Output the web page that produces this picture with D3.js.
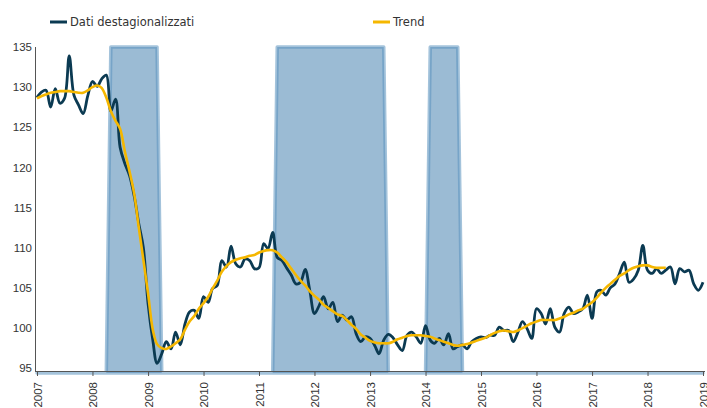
<!DOCTYPE html>
<html>
<head>
<meta charset="utf-8">
<script src="https://cdn.jsdelivr.net/npm/d3@7"></script>
<style>
  body { margin: 0; background: #fff; }
  svg { display: block; font-family: "DejaVu Sans", Verdana, sans-serif; }
</style>
</head>
<body>
<div id="chart"></div>
<script>
// monthly series from Jan 2007
var datiDest = [
  128.7, 129.4, 129.6, 127.5, 129.8, 128.0, 128.6, 133.9, 129.0, 127.8, 126.7, 128.9,
  130.7, 130.1, 131.0, 131.5, 127.0, 128.5, 122.5, 120.5, 119.0, 116.5, 113.0, 110.0,
  103.0, 98.5, 95.6, 96.8, 98.3, 97.4, 99.5, 97.9, 100.5, 102.0, 102.2, 101.2,
  103.9, 103.2, 104.9, 105.3, 108.4, 107.6, 110.2, 108.0, 107.6, 108.6, 108.4, 107.4,
  107.5, 110.5, 109.9, 111.9, 108.8, 108.4, 107.5, 106.6, 105.5, 105.7, 107.3, 104.7,
  101.8, 102.8, 103.9, 102.4, 103.2, 100.8, 101.6, 101.0, 101.4, 99.3, 98.3, 98.9,
  98.7, 97.8, 96.8, 98.5, 99.2, 98.8, 97.9, 97.2, 99.1, 99.5, 98.9, 98.1,
  100.3, 98.5, 98.1, 98.7, 97.9, 99.3, 97.4, 97.7, 97.9, 97.4, 98.3, 98.7,
  98.9, 98.8, 99.1, 99.1, 100.1, 99.7, 99.7, 98.3, 99.5, 100.8, 99.9, 98.7,
  102.4, 101.8, 100.5, 102.4, 100.1, 99.5, 101.8, 102.6, 101.8, 102.0, 102.4, 104.1,
  101.2, 104.5, 104.7, 104.1, 105.0, 105.5, 106.8, 108.2, 105.7, 106.1, 107.2, 110.3,
  107.2, 106.8, 107.4, 106.8, 107.2, 107.6, 105.5, 107.4, 107.0, 107.2, 105.5, 104.7,
  105.7
];

var trend = [
  128.6, 128.9, 129.1, 129.3, 129.4, 129.5, 129.5, 129.5, 129.4, 129.3, 129.3, 129.6,
  130.0, 130.2, 129.9, 128.7, 127.0, 125.8, 124.8, 122.0, 119.5, 116.8, 112.5, 108.5,
  104.3, 99.8, 98.0, 97.5, 97.4, 97.7, 98.1, 98.6, 99.8, 100.8, 101.5, 102.4,
  103.1, 103.9, 104.9, 105.9, 107.0, 107.7, 108.2, 108.5, 108.7, 108.8, 109.0, 109.1,
  109.4, 109.6, 109.7, 109.7, 109.4, 108.8, 108.2, 107.4, 106.6, 105.9, 105.3, 104.6,
  104.0, 103.5, 102.9, 102.5, 102.1, 101.7, 101.5, 101.0, 100.4, 99.9, 99.2, 98.8,
  98.4, 98.2, 98.1, 98.1, 98.1, 98.3, 98.6, 98.8, 99.0, 99.1, 99.1, 99.1,
  99.0, 98.9, 98.7, 98.5, 98.3, 98.1, 97.9, 97.8, 97.9, 98.0, 98.2, 98.4,
  98.6, 98.8, 99.1, 99.4, 99.6, 99.7, 99.6, 99.5, 99.7, 100.0, 100.3, 100.6,
  100.8, 101.0, 101.0, 101.0, 101.0, 101.2, 101.4, 101.7, 101.9, 102.2, 102.4, 102.8,
  103.2, 103.8, 104.4, 105.0, 105.5, 106.0, 106.5, 106.8, 107.2, 107.5, 107.7, 107.8,
  107.8, 107.6, 107.5, 107.5, 107.5
];

// recession periods (first and last month)
var recessioni = [
  ["2008-05", "2009-03"],
  ["2011-05", "2013-04"],
  ["2014-02", "2014-08"]
];

var anniTick = [2007, 2008, 2009, 2010, 2011, 2012, 2013, 2014, 2015, 2016, 2017, 2018, 2019];
var yTick = [95, 100, 105, 110, 115, 120, 125, 130, 135];
var legenda = ["Dati destagionalizzati", "Trend"];

var width = 707, height = 408;
var colDati = "#0b3a52", colTrend = "#f5b700";

var svg = d3.select("#chart").append("svg")
    .attr("width", width)
    .attr("height", height);

var start = new Date(2007, 0, 1);
var parseM = d3.timeParse("%Y-%m");

var x = d3.scaleTime()
    .domain([start, new Date(2019, 0, 1)])
    .range([37, 703]);

var y = d3.scaleLinear()
    .domain([94.4, 135])
    .range([373, 47]);

function mese(i) { return d3.timeMonth.offset(start, i); }

// recession area (full height inside the periods, baseline elsewhere)
var recData = d3.range(datiDest.length).map(function (i) {
    var d = mese(i);
    var dentro = recessioni.some(function (r) {
        return d >= parseM(r[0]) && d <= parseM(r[1]);
    });
    return { date: d, value: dentro ? 135 : 94.4 };
});

var area = d3.area()
    .x(function (d) { return x(d.date); })
    .y0(y(94.4))
    .y1(function (d) { return y(d.value); });

svg.append("path")
    .datum(recData)
    .attr("d", area)
    .attr("fill", "rgba(80,135,180,0.57)")
    .attr("stroke", "rgba(90,145,190,0.55)")
    .attr("stroke-width", 3.5)
    .attr("stroke-linejoin", "round");

// axes
var xAxis = svg.append("g")
    .attr("transform", "translate(0,371)")
    .call(d3.axisBottom(x)
        .tickValues(anniTick.map(function (a) { return new Date(a, 0, 1); }))
        .tickFormat(d3.timeFormat("%Y"))
        .tickSize(5)
        .tickSizeOuter(0));
xAxis.select(".domain").attr("stroke", "#555").attr("d", "M35,0.5H705");
xAxis.selectAll(".tick line").attr("stroke", "#555");
xAxis.selectAll(".tick text")
    .attr("transform", "rotate(-90)")
    .attr("text-anchor", "end")
    .attr("x", -11)
    .attr("y", 0)
    .attr("dy", "0.35em")
    .attr("fill", "#333")
    .style("font-size", "11.5px");

var yAxis = svg.append("g")
    .attr("transform", "translate(35,0)")
    .call(d3.axisLeft(y).tickValues(yTick).tickSize(0).tickPadding(3));
yAxis.select(".domain").attr("stroke", "#555")
    .attr("d", "M0.5," + y(135) + "V371");
yAxis.selectAll(".tick text")
    .attr("fill", "#333")
    .style("font-size", "11.5px");

// lines
var line = d3.line()
    .x(function (d, i) { return x(mese(i)); })
    .y(function (d) { return y(d); })
    .curve(d3.curveCatmullRom.alpha(0.5));

svg.append("path")
    .datum(datiDest)
    .attr("d", line)
    .attr("fill", "none")
    .attr("stroke", colDati)
    .attr("stroke-width", 2.8);

svg.append("path")
    .datum(trend)
    .attr("d", line)
    .attr("fill", "none")
    .attr("stroke", colTrend)
    .attr("stroke-width", 2.6);

// legend
var leg = svg.selectAll(".leg")
    .data([{ t: legenda[0], c: colDati, x: 50 }, { t: legenda[1], c: colTrend, x: 373 }])
    .enter().append("g")
    .attr("transform", function (d) { return "translate(" + d.x + ",22)"; });
leg.append("line")
    .attr("x1", 0).attr("x2", 17)
    .attr("stroke", function (d) { return d.c; })
    .attr("stroke-width", 3);
leg.append("text")
    .attr("x", 20)
    .attr("dy", "0.32em")
    .attr("fill", "#333")
    .style("font-size", "11.5px")
    .text(function (d) { return d.t; });
</script>
</body>
</html>
